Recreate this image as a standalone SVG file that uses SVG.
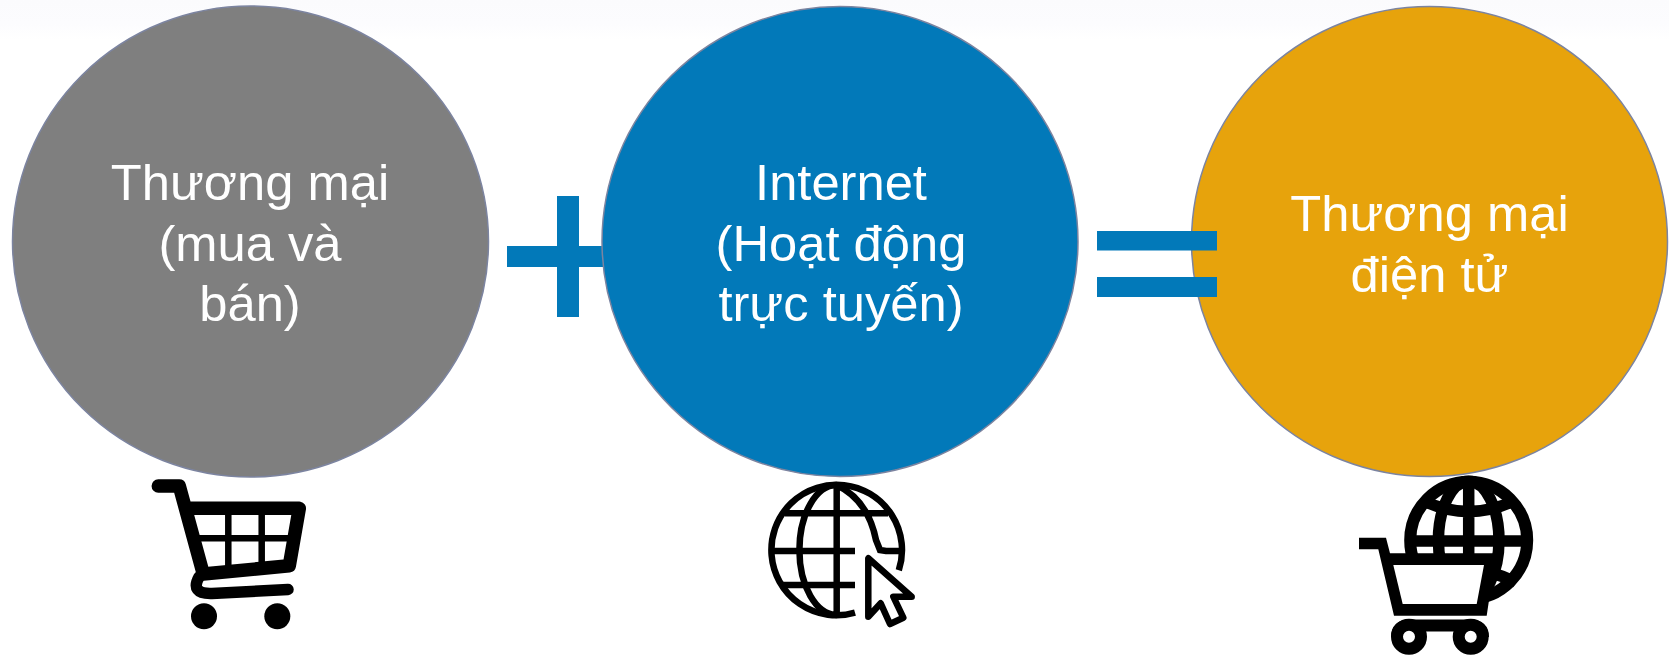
<svg xmlns="http://www.w3.org/2000/svg" width="1669" height="657" viewBox="0 0 1669 657">
<style>
.c{stroke:#7c84a0;stroke-width:1.5}
.t{font-family:"Liberation Sans",Arial,sans-serif;font-size:50.700px;fill:#fff;text-anchor:middle}
.op{fill:#0279b9}
.k{fill:none;stroke:#000;stroke-linecap:round;stroke-linejoin:round}
.b{fill:none;stroke:#000;stroke-linecap:butt}
</style>
<defs><linearGradient id="top" x1="0" y1="0" x2="0" y2="1"><stop offset="0" stop-color="#fbfbfd"/><stop offset="0.6" stop-color="#fcfcfe"/><stop offset="1" stop-color="#fff"/></linearGradient></defs>
<rect width="1669" height="657" fill="#fff"/>
<rect width="1669" height="40" fill="url(#top)"/>
<g id="plus"><rect class="op" x="557" y="196" width="22" height="121"/><rect class="op" x="507" y="246" width="110" height="21"/></g>
<g id="node-commerce">
<ellipse class="c" cx="250.500" cy="241.500" rx="238" ry="235.500" fill="#7f7f7f"/>
<text class="t" x="250" y="200">Thương mại</text>
<text class="t" x="250" y="260.700">(mua và</text>
<text class="t" x="250" y="321">bán)</text>
</g>
<g id="node-internet">
<ellipse class="c" cx="840" cy="241.500" rx="238" ry="235" fill="#0279b9"/>
<text class="t" x="841" y="200">Internet</text>
<text class="t" x="841" y="260.700">(Hoạt động</text>
<text class="t" x="841" y="321">trực tuyến)</text>
</g>
<g id="node-ecommerce">
<ellipse class="c" cx="1429.500" cy="241.500" rx="238" ry="235" fill="#e7a30c"/>
<text class="t" x="1429.500" y="231">Thương mại</text>
<text class="t" x="1429.500" y="291.600">điện tử</text>
</g>
<g id="equals"><rect class="op" x="1097" y="231" width="120" height="19.500"/><rect class="op" x="1097" y="277" width="120" height="20"/></g>
<g id="icon-cart">
<path class="k" stroke-width="13.500" d="M158.300 486H179.300L203.300 574L289.300 565.700L299.300 508.300H188"/>
<path class="b" stroke-width="6.500" d="M228.300 512V570M261.700 512V567M196 538.300H292"/>
<path class="k" stroke-width="11.500" d="M199 577C193 588 197 594 212 593.500L288 589.500"/>
<circle cx="204" cy="616.300" r="13"/><circle cx="277.300" cy="616.300" r="13"/>
</g>
<g id="icon-globe">
<path class="b" stroke-width="6.500" d="M898.800 570.200A65.300 65.300 0 1 0 855 612.700"/>
<path class="b" stroke-width="6.500" d="M836.700 485V615M836.700 485A37.300 65 0 0 0 836.700 615M836.700 485Q868 500 876 540L880 550L886 551H899M785 513.300H888M773 551H855M780 585H855"/>
<path class="k" stroke-width="6.500" d="M868.300 558.300V616.700L880.700 603.300L890 624L903.300 617.700L893.300 596.700H911.700Z"/>
</g>
<g id="icon-ecommerce">
<circle cx="1468.700" cy="540.300" r="58.500" fill="#fff" stroke="#000" stroke-width="12"/>
<ellipse cx="1468.700" cy="540.300" rx="30.300" ry="59" fill="none" stroke="#000" stroke-width="11.500"/>
<path class="b" stroke-width="11.500" d="M1468.700 482V599M1410 541H1527M1421.700 500Q1468.700 523.300 1515.700 500M1421.700 582Q1468.700 558.700 1515.700 582"/>
<path d="M1359 537.700H1386L1390 553.300H1496L1486.700 615.700H1394L1378.300 549.300H1359Z"/>
<path d="M1393.300 565H1484L1476.700 604H1402.700Z" fill="#fff"/>
<path class="b" stroke-width="12" d="M1397 637Q1397 625.500 1409 625.500H1471Q1483 625.500 1483 637"/>
<circle cx="1409" cy="636.700" r="12" fill="#fff" stroke="#000" stroke-width="12"/>
<circle cx="1470.700" cy="636.700" r="12" fill="#fff" stroke="#000" stroke-width="12"/>
</g>
</svg>
